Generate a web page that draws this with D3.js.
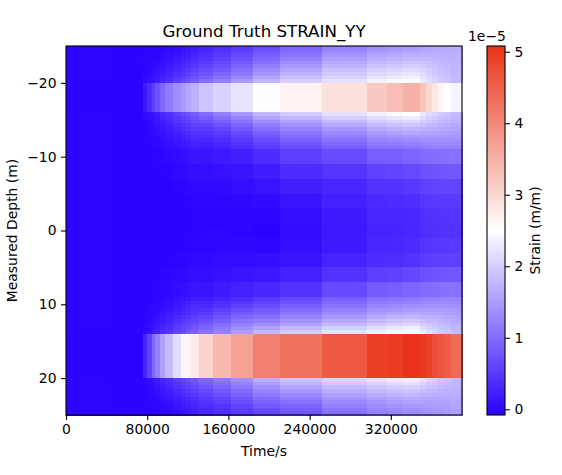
<!DOCTYPE html>
<html><head><meta charset="utf-8">
<script src="https://cdn.jsdelivr.net/npm/d3@7"></script>
<style>html,body{margin:0;padding:0;background:#fff}svg{display:block}text{font-family:"DejaVu Sans",sans-serif;fill:#000}</style>
</head><body><svg id="c" width="562" height="475"></svg>
<script>
const chartTitle = "Ground Truth STRAIN_YY";
const xLabel = "Time/s", yLabel = "Measured Depth (m)", barLabel = "Strain (m/m)", barExponent = "1e\u22125";
const xTicks = [0, 80000, 160000, 240000, 320000];
const yTicks = [-20, -10, 0, 10, 20];
const barTicks = [0, 1, 2, 3, 4, 5];
const colorStops = ["#2a00ff", "#ffffff", "#ea3318"];
const timeEdges = [0,13800,43300,75900,79800,84700,87700,92600,97500,105100,113000,118200,122900,131000,144800,162600,183900,210800,252200,296500,316200,332000,348800,354700,360600,366500,372400,379300,390100];
const depthEdges = [-25,-24.5,-24,-23.5,-23,-22.5,-22,-21.5,-21,-20.5,-20,-16,-15.5,-15,-14.5,-14,-13.5,-13,-12.5,-12,-11.5,-11,-9,-7,-5,-3,-1,1,3,5,7,9,9.5,10,10.5,11,11.5,12,12.5,13,13.5,14,20,20.5,21,21.5,22,22.5,23,23.5,24,24.5,25];
// strain in units of 1e-7; one line per time step, rows run from shallow to deep
const strainGrid = [
[-3,-3,-3,-3,-3,-3,-3,-3,-3,-3,-4,-3,-3,-3,-3,-3,-3,-3,-3,-3,-3,-3,-3,-3,-3,-3,-3,-3,-3,-3,-3,-3,-3,-3,-3,-3,-3,-3,-3,-3,-3,-4,-3,-3,-3,-3,-3,-3,-3,-3,-3,-3],
[-4,-4,-4,-4,-4,-4,-4,-4,-4,-5,-6,-5,-4,-4,-4,-4,-4,-4,-4,-4,-4,-4,-4,-4,-4,-4,-4,-4,-4,-4,-4,-4,-4,-4,-4,-4,-4,-4,-4,-4,-5,-6,-4,-4,-4,-4,-4,-4,-4,-4,-4,-4],
[-5,-5,-5,-5,-5,-6,-6,-6,-7,-7,-8,-7,-7,-6,-6,-6,-5,-5,-5,-5,-5,-5,-5,-5,-5,-5,-5,-5,-5,-5,-5,-5,-5,-5,-5,-5,-6,-6,-6,-7,-7,-8,-7,-6,-6,-6,-5,-5,-5,-5,-5,-5],
[-5,-5,-5,-4,-4,-3,-3,-2,-1,0,15,0,-1,-2,-3,-4,-5,-5,-6,-6,-7,-7,-8,-8,-8,-8,-8,-8,-8,-8,-7,-7,-6,-6,-5,-5,-4,-3,-2,-1,1,30,-1,-2,-3,-4,-5,-5,-5,-5,-5,-5],
[-5,-4,-4,-3,-2,-1,0,1,3,5,35,5,3,1,0,-1,-2,-3,-4,-5,-5,-6,-7,-8,-8,-8,-8,-8,-8,-7,-6,-5,-5,-4,-3,-2,-1,0,2,4,7,60,4,2,0,-1,-2,-3,-4,-4,-5,-5],
[-4,-4,-3,-2,-1,1,3,5,8,12,55,12,9,6,4,2,0,-1,-2,-3,-4,-5,-6,-7,-8,-8,-8,-8,-7,-6,-5,-4,-3,-2,-1,0,2,4,7,10,14,95,10,7,4,2,0,-1,-2,-3,-4,-4],
[-3,-3,-2,0,2,4,7,10,15,20,75,20,16,12,9,6,4,2,0,-1,-2,-4,-5,-6,-7,-8,-8,-7,-6,-5,-4,-2,-1,0,2,4,7,10,14,18,23,120,18,14,10,7,4,2,0,-1,-2,-3],
[-2,-1,1,3,6,9,13,18,24,30,95,30,25,20,16,12,9,6,4,2,0,-3,-5,-6,-7,-8,-8,-7,-6,-4,-2,0,2,4,7,10,14,18,23,28,34,155,28,23,18,14,10,7,4,2,0,-2],
[0,2,4,7,11,15,20,26,33,40,115,40,34,28,23,18,14,11,8,5,3,-1,-4,-6,-7,-8,-8,-7,-5,-3,0,3,5,8,12,16,20,25,31,37,44,180,37,31,25,20,15,11,8,5,3,0],
[4,7,10,14,19,24,30,37,46,55,135,55,47,40,34,28,23,18,14,11,8,3,-1,-4,-6,-7,-7,-6,-4,-1,3,8,11,15,20,25,31,37,44,52,60,215,52,44,37,31,25,20,15,11,8,4],
[10,13,17,21,26,32,39,47,56,65,150,65,57,49,42,36,30,25,20,16,12,6,1,-3,-5,-6,-6,-5,-3,1,6,12,16,21,26,32,38,45,53,61,70,240,62,54,47,40,33,27,22,17,13,10],
[14,17,21,26,32,39,47,56,65,75,160,75,66,58,50,43,37,31,26,21,16,9,3,-1,-4,-5,-5,-4,-1,3,9,16,21,26,32,39,46,54,62,71,80,262,71,62,54,47,40,33,27,22,17,14],
[19,23,28,33,40,47,55,65,75,85,170,85,76,67,59,51,44,38,32,27,21,13,6,1,-2,-4,-4,-2,1,6,13,21,27,33,39,46,54,62,71,81,91,278,81,72,63,55,47,40,33,27,22,19],
[27,32,37,43,50,58,67,77,88,100,190,100,85,72,60,50,42,35,29,24,19,11,5,1,-2,-3,-3,-2,1,6,12,20,26,33,41,50,60,71,82,94,106,306,95,85,75,66,57,49,42,36,30,27],
[38,43,49,56,64,72,82,93,106,120,205,120,103,88,74,62,52,44,37,30,25,16,8,2,-2,-3,-3,-1,3,9,18,27,35,44,54,65,76,88,100,112,125,338,113,101,90,80,70,61,53,46,40,36],
[52,58,65,73,82,92,103,116,130,145,222,145,125,108,93,80,68,58,49,41,34,22,12,5,0,-3,-4,-1,4,12,24,36,46,57,69,82,95,108,122,136,150,368,137,124,112,100,89,79,70,61,54,50],
[68,76,85,95,106,118,130,144,159,175,247,175,155,135,118,103,90,78,68,58,50,35,20,10,2,-4,-7,-2,6,14,30,50,60,70,80,92,105,120,136,156,177,410,166,152,139,126,113,101,90,80,70,62],
[92,101,111,122,134,146,158,171,185,200,265,195,175,156,140,125,112,100,88,78,70,55,36,22,12,6,3,6,12,24,42,66,76,88,100,112,125,140,156,175,198,430,187,172,158,144,130,117,105,94,84,76],
[122,131,141,152,163,174,185,196,208,220,288,220,200,180,162,146,132,119,107,96,84,68,45,30,24,18,16,18,26,42,66,86,98,109,120,133,147,163,181,201,222,460,207,193,179,166,153,141,130,120,110,102],
[138,147,157,167,178,189,200,211,223,235,320,235,215,196,178,162,148,136,125,114,104,85,58,42,32,28,26,30,36,56,84,106,116,127,138,150,163,179,197,216,238,492,221,206,192,178,165,153,142,133,126,120],
[142,152,162,172,183,194,206,218,231,245,332,245,224,204,186,170,155,141,128,117,106,87,60,44,34,29,27,31,38,58,86,108,119,130,143,157,172,188,206,226,246,498,230,214,199,185,172,160,149,140,132,126],
[148,158,168,178,189,200,212,224,237,250,348,250,230,210,192,175,160,146,133,121,110,92,65,48,37,31,29,34,42,64,92,112,123,135,148,162,177,194,212,232,252,508,235,219,204,190,177,165,155,146,138,132],
[155,162,170,178,187,196,205,214,222,230,325,230,214,198,183,170,157,146,136,126,116,98,72,56,46,40,38,44,52,72,98,118,128,138,148,159,171,185,199,215,232,500,219,206,194,183,172,162,153,146,140,136],
[158,164,170,177,184,191,198,204,210,215,300,215,203,191,180,169,158,148,138,128,118,100,74,58,48,42,40,46,54,74,100,120,130,140,150,160,170,181,192,204,217,490,207,197,187,178,169,161,153,147,142,138],
[160,165,170,175,181,186,191,196,201,205,280,205,195,185,176,166,157,148,139,129,120,102,76,59,49,43,41,47,55,76,102,122,131,140,150,159,168,177,186,196,206,475,199,191,183,175,168,161,154,149,145,142],
[161,165,169,173,177,181,185,189,192,195,262,195,188,180,172,163,155,147,139,130,121,104,78,60,50,44,42,48,56,78,104,123,132,140,149,157,165,173,181,189,196,465,191,185,178,172,166,160,155,151,147,144],
[162,165,168,171,175,178,181,184,187,190,252,190,183,176,168,160,153,146,138,130,122,105,79,61,51,45,43,49,57,79,105,124,132,140,148,155,162,169,177,184,191,455,187,181,175,170,165,160,156,152,149,147],
[165,167,169,171,172,174,175,177,178,180,240,180,175,170,163,156,150,144,137,130,123,106,80,62,52,46,44,50,58,80,106,125,132,139,146,152,158,164,170,175,181,436,179,176,172,169,166,163,160,158,156,154]
];
const vMin = -8, vMid = 250, vMax = 508;

const svg = d3.select("#c");
const plot = {l:66, r:462, t:46, b:415};
const bar = {l:487, r:505};
const x = d3.scaleLinear().domain([0, timeEdges[timeEdges.length-1]]).range([plot.l, plot.r]);
const y = d3.scaleLinear().domain([-25, 25]).range([plot.t, plot.b]);
const color = d3.scaleLinear().domain([vMin, vMid, vMax]).range(colorStops);
const barY = d3.scaleLinear().domain([vMin, vMax]).range([plot.b, plot.t]);

const cells = strainGrid.flatMap((col, i) => col.map((v, j) => ({i, j, v})));
svg.append("g").attr("shape-rendering","crispEdges").selectAll("rect").data(cells).join("rect")
  .attr("x", d => x(timeEdges[d.i]))
  .attr("width", d => x(timeEdges[d.i+1]) - x(timeEdges[d.i]) + 0.5)
  .attr("y", d => y(depthEdges[d.j]))
  .attr("height", d => y(depthEdges[d.j+1]) - y(depthEdges[d.j]) + 0.5)
  .attr("fill", d => color(d.v));

const grad = svg.append("defs").append("linearGradient").attr("id","cb").attr("x1",0).attr("x2",0).attr("y1",1).attr("y2",0);
grad.selectAll("stop").data(colorStops).join("stop").attr("offset",(d,i)=>i/2).attr("stop-color",d=>d);
svg.append("rect").attr("x",bar.l).attr("y",plot.t).attr("width",bar.r-bar.l).attr("height",plot.b-plot.t).attr("fill","url(#cb)");

function style(g){
  g.selectAll("text").attr("font-size","13.9px").attr("font-family","DejaVu Sans").attr("fill","#000");
  g.selectAll("line").attr("stroke","#000").attr("stroke-width",1.1);
  g.select(".domain").remove();
}
svg.append("g").attr("transform",`translate(0,${plot.b})`)
  .call(d3.axisBottom(x).tickValues(xTicks).tickFormat(d3.format("d")).tickSize(5).tickPadding(4.5)).call(style);
svg.append("g").attr("transform",`translate(${plot.l},0)`)
  .call(d3.axisLeft(y).tickValues(yTicks).tickFormat(d3.format("d")).tickSize(5).tickPadding(4.5)).call(style);
svg.append("g").attr("transform",`translate(${bar.r},0)`)
  .call(d3.axisRight(barY).tickValues(barTicks.map(d=>d*100)).tickFormat(d=>d/100).tickSize(5).tickPadding(4.5)).call(style);

svg.append("rect").attr("x",plot.l).attr("y",plot.t).attr("width",plot.r-plot.l).attr("height",plot.b-plot.t).attr("fill","none").attr("stroke","#000").attr("stroke-width",1.1);
svg.append("rect").attr("x",bar.l).attr("y",plot.t).attr("width",bar.r-bar.l).attr("height",plot.b-plot.t).attr("fill","none").attr("stroke","#000").attr("stroke-width",1.1);

svg.append("text").attr("x",264).attr("y",36.5).attr("text-anchor","middle").attr("font-size","16.67px").text(chartTitle);
svg.append("text").attr("x",264).attr("y",455.5).attr("text-anchor","middle").attr("font-size","13.9px").text(xLabel);
svg.append("text").attr("transform","translate(17,230.5) rotate(-90)").attr("text-anchor","middle").attr("font-size","13.9px").text(yLabel);
svg.append("text").attr("transform","translate(540,230.5) rotate(-90)").attr("text-anchor","middle").attr("font-size","13.9px").text(barLabel);
svg.append("text").attr("x",468).attr("y",41).attr("font-size","13.9px").text(barExponent);
</script></body></html>
